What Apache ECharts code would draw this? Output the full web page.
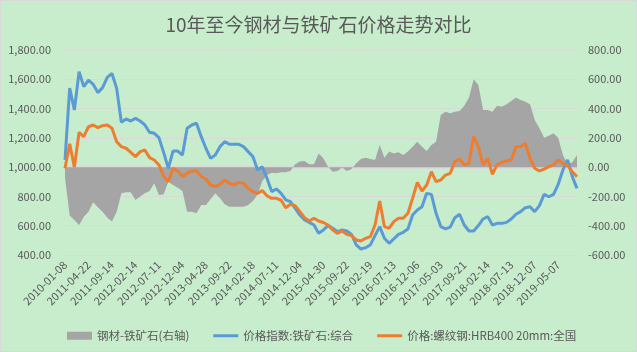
<!DOCTYPE html>
<html>
<head>
<meta charset="utf-8">
<title>钢材与铁矿石价格走势对比</title>
<script src="https://cdn.jsdelivr.net/npm/echarts@6.0.0/dist/echarts.min.js"></script>
<style>
  html, body { margin: 0; padding: 0; }
  #chart {
    width: 637px;
    height: 352px;
    box-sizing: border-box;
    border: 1px solid #d9d9d9;
    background: #c7edcc;
  }
</style>
</head>
<body>
<div id="chart"></div>
<script>
// x axis labels, one every 5 points
const tickLabels = [
  '2010-01-08', '2011-04-22', '2011-09-14', '2012-02-14', '2012-07-11', '2012-12-04',
  '2013-04-28', '2013-09-22', '2014-02-18', '2014-07-11', '2014-12-04', '2015-04-30',
  '2015-09-22', '2016-02-19', '2016-07-13', '2016-12-06', '2017-05-03', '2017-09-21',
  '2018-02-14', '2018-07-13', '2018-12-07', '2019-05-07'
]
const labelStep = 5

// 钢材-铁矿石 (right axis)
const spread = [
  -70, -330, -361, -395, -338, -304, -240, -274, -304, -345,
  -372, -304, -179, -172, -172, -224, -201, -179, -163, -110,
  -190, -185, -99, -122, -140, -163, -304, -304, -315, -258,
  -258, -217, -179, -213, -254, -270, -270, -270, -270, -258,
  -231, -186, -94, -53, -38, -42, -35, -35, -26, 19,
  38, 42, 19, 19, 94, 60, 3, -31, -26, -3,
  -26, -13, 26, 56, 65, 56, 49, 151, 65, 106,
  94, 101, 83, 106, 140, 174, 140, 110, 151, 174,
  356, 379, 368, 379, 384, 420, 475, 600, 561, 390,
  390, 379, 420, 413, 429, 452, 475, 459, 447, 429,
  322, 265, 201, 215, 231, 201, 83, 19, 33, 83
]

// 价格指数:铁矿石:综合
const ironOre = [
  1050, 1540, 1390, 1652, 1550, 1595, 1566, 1509, 1543, 1613,
  1640, 1538, 1306, 1329, 1315, 1333, 1315, 1288, 1238, 1231,
  1201, 1101, 992, 1110, 1110, 1083, 1265, 1288, 1300, 1208,
  1129, 1060, 1083, 1140, 1174, 1156, 1156, 1156, 1140, 1106,
  1072, 981, 1003, 924, 833, 851, 821, 776, 764, 719,
  673, 639, 623, 605, 548, 571, 601, 582, 560, 571,
  564, 541, 469, 441, 450, 469, 532, 594, 514, 480,
  510, 541, 555, 578, 673, 707, 730, 821, 814, 685,
  594, 578, 590, 655, 678, 605, 564, 564, 601, 646,
  662, 605, 616, 616, 623, 646, 678, 696, 723, 730,
  696, 737, 814, 798, 814, 883, 981, 1049, 935, 855
]

// 价格:螺纹钢:HRB400 20mm:全国
const rebar = [
  992, 1160, 1000, 1238, 1208, 1276, 1288, 1270, 1283, 1288,
  1265, 1174, 1140, 1129, 1101, 1072, 1106, 1117, 1065, 1049,
  1015, 940, 901, 992, 974, 935, 958, 974, 975, 935,
  919, 878, 867, 883, 912, 890, 878, 896, 890, 855,
  833, 821, 840, 805, 787, 787, 774, 723, 746, 737,
  696, 655, 632, 651, 632, 622, 605, 571, 548, 564,
  541, 532, 503, 496, 514, 525, 605, 769, 594, 582,
  628, 651, 651, 685, 787, 896, 837, 878, 969, 901,
  912, 946, 958, 1038, 1056, 1015, 1026, 1210, 1140, 1015,
  1060, 951, 1019, 1033, 1042, 1049, 1140, 1140, 1163, 1060,
  992, 974, 987, 1003, 1015, 1049, 1026, 1010, 969, 935
]

const seriesNames = ['钢材-铁矿石(右轴)', '价格指数:铁矿石:综合', '价格:螺纹钢:HRB400 20mm:全国']

const textColor = '#595959'
const font = "'Noto Sans CJK SC', sans-serif"
const lineIcon = 'path://M0,0L25,0L25,3L0,3Z'
const categories = spread.map((v, i) => String(i))

const chart = echarts.init(document.getElementById('chart'))

chart.setOption({
  animation: false,
  textStyle: { fontFamily: font },
  title: {
    text: '10年至今钢材与铁矿石价格走势对比',
    left: 'center',
    top: 9,
    textStyle: {
      fontFamily: font,
      fontSize: 19,
      fontWeight: 'normal',
      color: textColor
    }
  },
  legend: {
    left: 61,
    top: 324,
    itemWidth: 25,
    itemHeight: 8,
    itemGap: 24,
    textStyle: { fontFamily: font, fontSize: 11.5, color: textColor },
    data: [
      { name: seriesNames[0], icon: 'rect' },
      { name: seriesNames[1], icon: lineIcon },
      { name: seriesNames[2], icon: lineIcon }
    ]
  },
  grid: {
    left: 64,
    top: 49,
    width: 512,
    height: 205
  },
  xAxis: {
    type: 'category',
    data: categories,
    boundaryGap: false,
    axisLine: { lineStyle: { color: '#d9d9d9', width: 3 } },
    axisTick: { show: false },
    axisLabel: {
      interval: labelStep - 1,
      rotate: 45,
      margin: 8,
      fontSize: 11,
      color: textColor,
      formatter: (value, index) => tickLabels[index / labelStep] || ''
    }
  },
  yAxis: [
    {
      type: 'value',
      min: 400,
      max: 1800,
      interval: 200,
      axisLine: { show: false },
      axisTick: { show: false },
      splitLine: { lineStyle: { color: '#d9d9d9', width: 1 } },
      axisLabel: {
        margin: 14,
        fontSize: 11,
        color: textColor,
        formatter: v => v.toLocaleString('en-US', { minimumFractionDigits: 2, maximumFractionDigits: 2 })
      }
    },
    {
      type: 'value',
      min: -600,
      max: 800,
      interval: 200,
      axisLine: { show: false },
      axisTick: { show: false },
      splitLine: { show: false },
      axisLabel: {
        margin: 11,
        fontSize: 11,
        color: textColor,
        formatter: v => v.toFixed(2)
      }
    }
  ],
  series: [
    {
      name: seriesNames[0],
      type: 'line',
      yAxisIndex: 1,
      data: spread,
      symbol: 'none',
      color: '#a5a5a5',
      lineStyle: { width: 0 },
      areaStyle: { color: '#a5a5a5', opacity: 1 }
    },
    {
      name: seriesNames[1],
      type: 'line',
      data: ironOre,
      symbol: 'none',
      color: '#5b9bd5',
      lineStyle: { width: 3, color: '#5b9bd5' }
    },
    {
      name: seriesNames[2],
      type: 'line',
      data: rebar,
      symbol: 'none',
      color: '#ed7d31',
      lineStyle: { width: 3, color: '#ed7d31' }
    }
  ]
})
</script>
</body>
</html>
